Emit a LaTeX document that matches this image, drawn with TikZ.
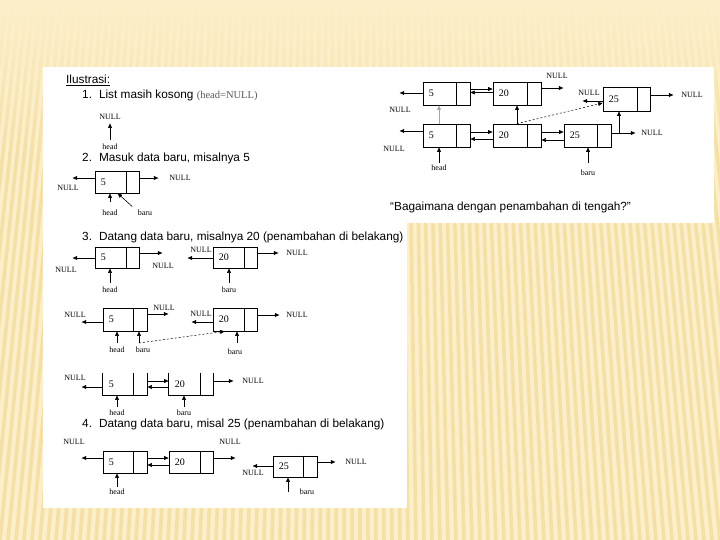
\documentclass[tikz,border=0pt]{standalone}
\usepackage{fontspec}
\setmainfont{Liberation Sans}
\newfontfamily\serif{Liberation Serif}
\usetikzlibrary{arrows.meta}
\definecolor{cream}{HTML}{FCEEC8}
\definecolor{stripe}{HTML}{F4DFA6}
\tikzset{
  lbox/.style={draw, line width=0.7pt, inner sep=0pt},
  lbl/.style={font=\serif\fontsize{8}{8}\selectfont, inner sep=0.5pt},
  num/.style={font=\serif\fontsize{10}{10}\selectfont, inner sep=0pt, anchor=west},
  arr/.style={-{Triangle[length=4.5pt,width=3.8pt]}, line width=0.6pt},
  titletext/.style={font=\fontsize{11.8}{13}\selectfont, anchor=west, inner sep=0pt},
}
\newcommand{\llnode}[7]{%
  \node[lbox, minimum width=#4pt, minimum height=#5pt] (#1) at (#2,#3) {};
  \draw[line width=0.7pt] ([xshift=-#6pt]#1.north east) -- ([xshift=-#6pt]#1.south east);
  \node[num] (#1v) at ([xshift=6pt]#1.west) {#7};
}
\newcommand{\llopen}[7]{%
  \node[lbox, draw=none, minimum width=#4pt, minimum height=#5pt] (#1) at (#2,#3) {};
  \draw[line width=0.7pt] (#1.north west) -- (#1.south west) -- (#1.south east) -- (#1.north east);
  \draw[line width=0.7pt] ([xshift=-#6pt]#1.north east) -- ([xshift=-#6pt]#1.south east);
  \node[num] (#1v) at ([xshift=6pt]#1.west) {#7};
}
\begin{document}
\begin{tikzpicture}[x=1pt,y=-1pt]
\useasboundingbox (0,0) rectangle (720,540);
% background
\begin{scope}
\clip (0,0) rectangle (720,540);
\fill[cream] (0,0) rectangle (720,540);
\foreach \i in {-12,...,102} {
  \draw[stripe, line width=3.5pt] (\i*8,540) -- ({360+(\i*8-360)*0.85},0);
}
\foreach \k in {0,...,15} {
  \pgfmathsetmacro{\op}{1-\k/16}
  \fill[cream, opacity=\op] (0,\k*10) rectangle (720,\k*10+10);
}
\end{scope}
% panels
\fill[white] (43,67) rectangle (407,508);
\fill[white] (372,67) rectangle (714,223);

% titles
\node[titletext] (t0) at (66,80) {\underline{Ilustrasi:}};
\node[titletext] (t1) at (82,95) {1.\hspace{7pt}List masih kosong {\serif\fontsize{10.5}{11}\selectfont\color{black!65}(head=NULL)}};
\node[titletext] (t2) at (82,158) {2.\hspace{7pt}Masuk data baru, misalnya 5};
\node[titletext] (t3) at (82,237) {3.\hspace{7pt}Datang data baru, misalnya 20 (penambahan di belakang)};
\node[titletext] (t4) at (82,424) {4.\hspace{7pt}Datang data baru, misal 25 (penambahan di belakang)};
\node[titletext] (tq) at (390,207) {“Bagaimana dengan penambahan di tengah?”};

% item 1
\node[lbl] (n1) at (110,117) {NULL};
\node[lbl] (h1) at (110,147) {head};
\draw[arr, shorten <=3pt, shorten >=3pt] (h1.north) -- (n1.south);

% item 2
\llnode{a}{117}{182}{44}{22}{13}{5}
\node[lbl] (na1) at (68,188) {NULL};
\node[lbl] (na2) at (180,178) {NULL};
\draw[arr] (a.west |- 0,178) -- ++(-22,0);
\draw[arr] (a.east |- 0,178) -- ++(19,0);
\node[lbl] (ha) at (110,213) {head};
\node[lbl] (ba) at (145,213) {baru};
\draw[arr] (ha |- 0,202) -- (ha |- a.south);
\draw[arr] ([shift={(-5,-3)}]ba.north west) -- ([xshift=23pt]a.south west);

% item 3, row A
\llnode{b}{117}{257.5}{44}{21}{13}{5}
\node[lbl] (nb1) at (66,270) {NULL};
\node[lbl] (nb2) at (163,266) {NULL};
\draw[arr] (b.west |- 0,258) -- ++(-22,0);
\draw[arr] (b.east |- 0,253) -- ++(23,0);
\node[lbl] (hb) at (110,290) {head};
\draw[arr] (hb |- 0,283) -- (hb |- b.south);
\llnode{c}{235}{257.5}{44}{21}{13}{20}
\node[lbl] (nc1) at (201,250) {NULL};
\node[lbl] (nc2) at (297,253) {NULL};
\draw[arr] (c.west |- 0,258) -- ++(-25,0);
\draw[arr] (c.east |- 0,253) -- ++(21,0);
\node[lbl] (bc) at (229,290) {baru};
\draw[arr] (bc |- 0,283) -- (bc |- c.south);

% item 3, row B
\llnode{d}{125}{319.5}{44}{23}{14}{5}
\node[lbl] (nd1) at (75,315) {NULL};
\node[lbl] (nd2) at (164,308) {NULL};
\draw[arr] (d.west |- 0,322) -- ++(-21,0);
\draw[arr] (d.east |- 0,314) -- ++(21,0);
\node[lbl] (hd) at (117,350) {head};
\node[lbl] (bd) at (143,350) {baru};
\draw[arr] (hd |- 0,343) -- (hd |- d.south);
\coordinate (bdx) at (139,343);
\draw[arr] (bdx) -- (bdx |- d.south);
\llnode{e}{235}{319.5}{44}{23}{13}{20}
\node[lbl] (ne1) at (201,314) {NULL};
\node[lbl] (ne2) at (297,315) {NULL};
\draw[arr] (e.west |- 0,322) -- ++(-21,0);
\draw[arr] (e.east |- 0,315) -- ++(22,0);
\node[lbl] (be) at (235,352) {baru};
\coordinate (bex) at (237,343);
\draw[arr] (bex) -- (bex |- e.south);
\draw[arr, dash pattern=on 2pt off 2pt, line width=0.5pt] (bdx) -- ([xshift=12pt]e.south west);

% item 3, row C
\llopen{f}{125}{384}{44}{22}{14}{5}
\llopen{g}{191}{384}{44}{22}{13}{20}
\node[lbl] (nf1) at (75,378) {NULL};
\node[lbl] (ng2) at (253,381) {NULL};
\draw[arr] (f.west |- 0,387) -- ++(-21,0);
\draw[arr] (f.east |- 0,381) -- (g.west |- 0,381);
\draw[arr] (g.west |- 0,387) -- (f.east |- 0,387);
\draw[arr] (g.east |- 0,381) -- ++(20,0);
\node[lbl] (hf) at (117,413) {head};
\node[lbl] (bg) at (184,413) {baru};
\draw[arr] (hf |- 0,407) -- (hf |- f.south);
\draw[arr] (bg |- 0,407) -- (bg |- g.south);

% item 4
\llnode{k}{125}{462}{44}{22}{14}{5}
\llnode{l}{191}{462}{44}{22}{13}{20}
\node[lbl] (nk1) at (74,442) {NULL};
\node[lbl] (nl2) at (230,442) {NULL};
\draw[arr] (k.west |- 0,458) -- ++(-21,0);
\draw[arr] (k.east |- 0,458) -- (l.west |- 0,458);
\draw[arr] (l.west |- 0,465) -- (k.east |- 0,465);
\draw[arr] (l.east |- 0,458) -- ++(22,0);
\node[lbl] (hk) at (117,492) {head};
\draw[arr] (hk |- 0,487) -- (hk |- k.south);
\llnode{m}{295}{466.5}{44}{21}{14}{25}
\node[lbl] (nm1) at (253,473) {NULL};
\node[lbl] (nm2) at (356,462) {NULL};
\draw[arr] (m.west |- 0,466) -- ++(-20,0);
\draw[arr] (m.east |- 0,462) -- ++(18,0);
\node[lbl] (bm) at (307,492) {baru};
\coordinate (mx) at (288,492);
\draw[arr] (mx) -- (mx |- m.south);

% right panel, top row
\llnode{p}{446.5}{93.5}{47}{23}{14}{5}
\llnode{q}{517}{93.5}{48}{23}{14}{20}
\llnode{r}{626.5}{99}{47}{24}{13}{25}
\node[lbl] (np1) at (400,110) {NULL};
\node[lbl] (nq2) at (557,76) {NULL};
\node[lbl] (nr1) at (589,93) {NULL};
\node[lbl] (nr2) at (692,95) {NULL};
\draw[arr] (p.west |- 0,93) -- ++(-23,0);
\draw[arr] (p.east |- 0,89) -- (q.west |- 0,89);
\draw[arr] (q.west |- 0,92.5) -- (p.east |- 0,92.5);
\draw[arr] (q.east |- 0,88) -- ++(22,0);
\draw[arr] (r.west |- 0,101) -- ++(-20,0);
\draw[arr] (r.east |- 0,95) -- ++(23,0);

% right panel, bottom row
\llnode{s}{446.5}{135.5}{47}{23}{14}{5}
\llnode{u}{517}{135.5}{48}{23}{14}{20}
\llnode{v}{587.5}{135.5}{47}{23}{14}{25}
\node[lbl] (ns1) at (394,149) {NULL};
\node[lbl] (nv2) at (652,133) {NULL};
\draw[arr] (s.west |- 0,131) -- ++(-23,0);
\draw[arr] (s.east |- 0,132) -- (u.west |- 0,132);
\draw[arr] (u.west |- 0,139) -- (s.east |- 0,139);
\draw[arr] (u.east |- 0,132) -- (v.west |- 0,132);
\draw[arr] (v.west |- 0,140) -- (u.east |- 0,140);
\draw[arr] (v.east |- 0,133) -- ++(24,0);
\coordinate (vj) at (619,133);
\draw[arr] (vj) -- (vj |- r.south);
\coordinate (sx) at (439,124);
\draw[arr, black!35] (sx) -- (sx |- p.south);
\draw[arr] (u.north) -- (q.south);
\draw[arr, dash pattern=on 2pt off 2pt, line width=0.5pt] (u.north) -- ([yshift=-4pt]r.west);
\node[lbl] (hs) at (439,168) {head};
\node[lbl] (bv) at (588,173) {baru};
\draw[arr] (hs |- 0,163) -- (hs |- s.south);
\draw[arr] (bv |- 0,163) -- (bv |- v.south);
\end{tikzpicture}
\end{document}
